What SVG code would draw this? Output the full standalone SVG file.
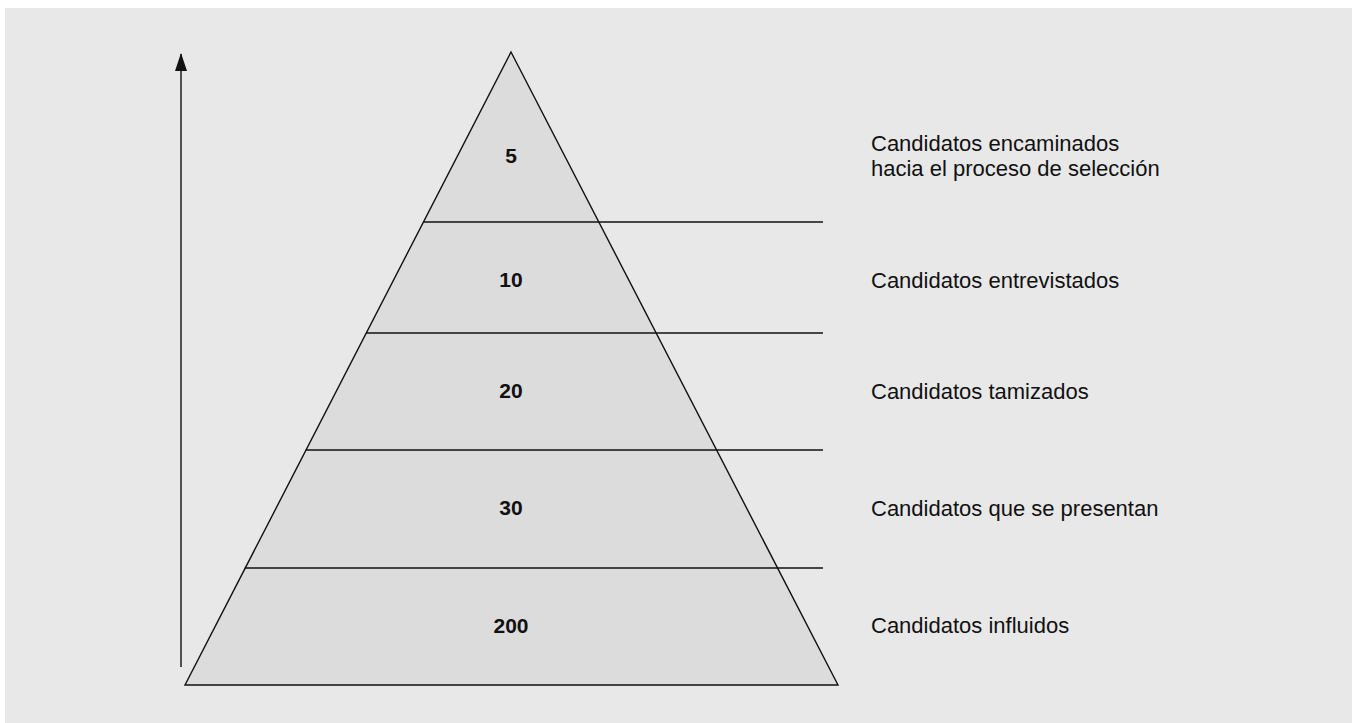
<svg xmlns="http://www.w3.org/2000/svg" width="1352" height="723" viewBox="0 0 1352 723">
<style>
.bg{fill:#e8e8e8}
.pyr{fill:#dcdcdc;stroke:#111;stroke-width:1.4;stroke-linejoin:miter}
.ln{stroke:#111;stroke-width:1.4;fill:none}
.num{font-family:"Liberation Sans",Arial,sans-serif;font-size:21px;font-weight:bold;fill:#111;text-anchor:middle}
.lbl{font-family:"Liberation Sans",Arial,sans-serif;font-size:22px;fill:#111}
</style>
<defs>
<marker id="ah" viewBox="0 0 18 12" refX="17" refY="6" markerWidth="18" markerHeight="12" markerUnits="userSpaceOnUse" orient="auto">
<path d="M0,0 L18,6 L0,12 Z" fill="#111"/>
</marker>
</defs>
<rect class="bg" x="5" y="8" width="1347" height="715"/>
<g id="pyramid">
<polygon class="pyr" points="511,52 838,685 185,685"/>
</g>
<g id="connectors">
<line class="ln" x1="181" y1="667" x2="181" y2="54" marker-end="url(#ah)"/>
<line class="ln" x1="423.5" y1="222" x2="823" y2="222"/>
<line class="ln" x1="366.2" y1="333" x2="823" y2="333"/>
<line class="ln" x1="305.8" y1="450" x2="823" y2="450"/>
<line class="ln" x1="244.8" y1="568" x2="823" y2="568"/>
</g>
<g id="tier1">
<text class="num" x="511" y="163">5</text>
<text class="lbl" x="871" y="151">Candidatos encaminados</text>
<text class="lbl" x="871" y="176">hacia el proceso de selección</text>
</g>
<g id="tier2">
<text class="num" x="511" y="287">10</text>
<text class="lbl" x="871" y="288">Candidatos entrevistados</text>
</g>
<g id="tier3">
<text class="num" x="511" y="398">20</text>
<text class="lbl" x="871" y="399">Candidatos tamizados</text>
</g>
<g id="tier4">
<text class="num" x="511" y="515">30</text>
<text class="lbl" x="871" y="516">Candidatos que se presentan</text>
</g>
<g id="tier5">
<text class="num" x="511" y="633">200</text>
<text class="lbl" x="871" y="633">Candidatos influidos</text>
</g>
</svg>
